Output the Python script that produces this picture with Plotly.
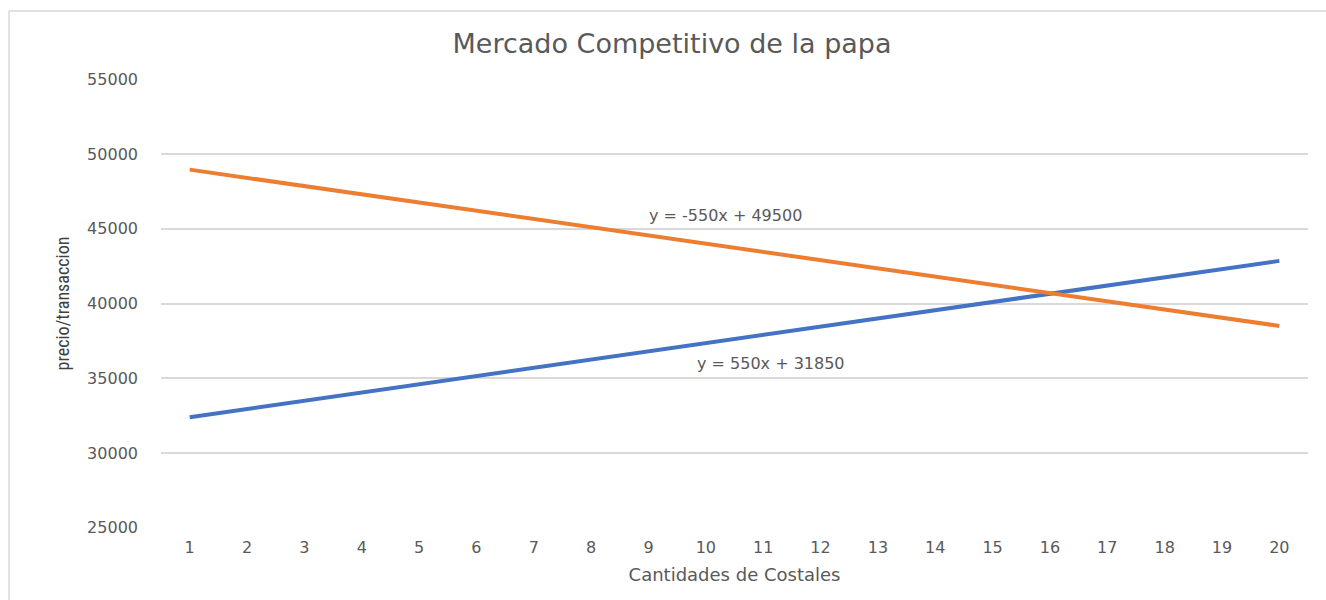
import plotly.graph_objects as go

cantidades = list(range(1, 21))
demanda = [48950, 48400, 47850, 47300, 46750, 46200, 45650, 45100, 44550, 44000,
           43450, 42900, 42350, 41800, 41250, 40700, 40150, 39600, 39050, 38500]
oferta = [32400, 32950, 33500, 34050, 34600, 35150, 35700, 36250, 36800, 37350,
          37900, 38450, 39000, 39550, 40100, 40650, 41200, 41750, 42300, 42850]
y_ticks = [25000, 30000, 35000, 40000, 45000, 50000, 55000]

txt = "#595959"
fig = go.Figure()
fig.add_trace(go.Scatter(x=cantidades, y=oferta, mode="lines",
                         line=dict(color="#4472C4", width=4), showlegend=False))
fig.add_trace(go.Scatter(x=cantidades, y=demanda, mode="lines",
                         line=dict(color="#ED7D31", width=4), showlegend=False))

fig.update_layout(
    width=1326, height=600,
    margin=dict(l=161, r=18, t=79, b=72, autoexpand=False),
    paper_bgcolor="white", plot_bgcolor="white",
    font=dict(family="DejaVu Sans", color=txt),
    title=dict(text="Mercado Competitivo de la papa", x=0.5068, xref="container",
               xanchor="center", y=0.9267, yref="container", yanchor="middle",
               font=dict(size=27, color=txt)),
    xaxis=dict(range=[0.5, 20.5], tickvals=cantidades, showgrid=False, zeroline=False,
               showline=False, tickfont=dict(size=16, color=txt), ticks="",
               ticklabelstandoff=8, automargin=False,
               title=dict(text="Cantidades de Costales", font=dict(size=18, color=txt),
                          standoff=12)),
    yaxis=dict(range=[24990, 55010], tickvals=y_ticks, tickformat="d", showgrid=True,
               gridcolor="#d9d9d9", gridwidth=1.5, zeroline=False, showline=False,
               tickfont=dict(size=16, color=txt), ticks="", ticklabelstandoff=22,
               automargin=False,
               title=dict(text="precio/transaccion",
                          font=dict(size=18, color="#404040",
                                    family="Liberation Sans Narrow, Roboto Condensed, Liberation Sans"),
                          standoff=12)),
    annotations=[
        dict(x=10.35, y=45867, xref="x", yref="y", text="y = -550x + 49500",
             showarrow=False, font=dict(size=16, color=txt)),
        dict(x=11.14, y=36000, xref="x", yref="y", text="y = 550x + 31850",
             showarrow=False, font=dict(size=16, color=txt)),
    ],
    shapes=[
        dict(type="line", xref="paper", yref="paper", x0=-0.1325, x1=1.2,
             y0=1.1514, y1=1.1514, line=dict(color="#d9d9d9", width=1.5)),
        dict(type="line", xref="paper", yref="paper", x0=-0.1325, x1=-0.1325,
             y0=-0.2, y1=1.1514, line=dict(color="#d9d9d9", width=1.5)),
    ],
)
fig.write_html("out.html", config={"displayModeBar": False},
               post_script="document.body.style.margin='0';document.body.style.overflow='hidden';")
